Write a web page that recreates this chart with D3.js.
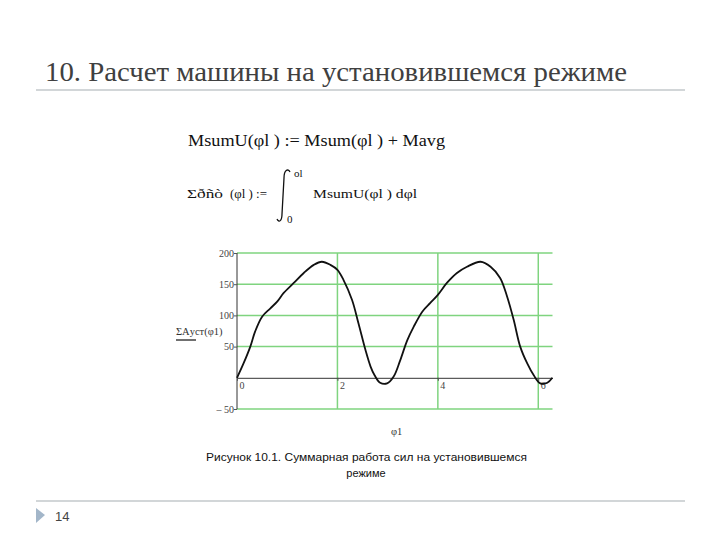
<!DOCTYPE html>
<html>
<head>
<meta charset="utf-8">
<script src="https://cdn.jsdelivr.net/npm/d3@7"></script>
<style>
  body { margin: 0; background: #fff; }
  svg { display: block; }
</style>
</head>
<body>
<div id="chart"></div>
<script>
// curve values
const phiValues = [0, 0.13, 0.265, 0.36, 0.5, 0.66, 0.8, 0.93, 1.13, 1.33, 1.53, 1.69, 1.86, 2.0, 2.12, 2.29, 2.42, 2.56, 2.66, 2.74, 2.85, 2.99, 3.12, 3.25, 3.39, 3.52, 3.69, 3.85, 4.0, 4.18, 4.38, 4.58, 4.85, 5.05, 5.24, 5.38, 5.51, 5.64, 5.78, 5.91, 6.04, 6.18, 6.28];
const workValues = [0, 23, 50, 74, 98, 111, 122, 136, 152, 168, 181, 186, 181, 173, 157, 125, 87, 44, 18, 4, -8, -9, 2, 28, 60, 82, 106, 120, 133, 152, 168, 178, 186, 178, 160, 130, 93, 50, 23, 4, -9, -8, 0];
const xTicks = [0, 2, 4, 6];
const yTicks = [200, 150, 100, 50, -50];

const svg = d3.select("#chart").append("svg")
  .attr("width", 720)
  .attr("height", 540);

const serif = "'Liberation Serif', 'Times New Roman', serif";
const sans = "'Liberation Sans', Arial, sans-serif";

// slide title + rules
svg.append("text")
  .attr("x", 45).attr("y", 81)
  .style("font-family", serif)
  .attr("font-size", 28)
  .attr("fill", "#404040")
  .attr("textLength", 582)
  .attr("lengthAdjust", "spacingAndGlyphs")
  .text("10. Расчет машины на установившемся режиме");

svg.append("line").attr("x1", 36).attr("x2", 685).attr("y1", 90).attr("y2", 90)
  .attr("stroke", "#d2d6d8").attr("stroke-width", 2);
svg.append("line").attr("x1", 36).attr("x2", 685).attr("y1", 501).attr("y2", 501)
  .attr("stroke", "#d2d6d8").attr("stroke-width", 2);

// footer
svg.append("path").attr("d", "M36,508 L45,515 L36,523 Z").attr("fill", "#a3b6c9");
svg.append("text").attr("x", 55).attr("y", 521)
  .style("font-family", sans).attr("font-size", 13)
  .attr("fill", "#444").text("14");

// formulas
svg.append("text").attr("x", 188).attr("y", 146)
  .style("font-family", serif).attr("font-size", 17).attr("fill", "#111")
  .attr("textLength", 257).attr("lengthAdjust", "spacingAndGlyphs")
  .text("MsumU(φl ) := Msum(φl ) + Mavg");

svg.append("text").attr("x", 187).attr("y", 198)
  .style("font-family", serif).attr("font-size", 13).attr("fill", "#111")
  .attr("textLength", 36).attr("lengthAdjust", "spacingAndGlyphs")
  .text("Σðñò");
svg.append("text").attr("x", 230).attr("y", 198)
  .style("font-family", serif).attr("font-size", 13).attr("fill", "#111")
  .attr("textLength", 37).attr("lengthAdjust", "spacingAndGlyphs")
  .text("(φl ) :=");
// integral sign
svg.append("path")
  .attr("d", "M290,172 C288,168 284,170 284,178 L282,214 C282,221 279,223 277,219")
  .attr("fill", "none").attr("stroke", "#111").attr("stroke-width", 1.3);
svg.append("text").attr("x", 294).attr("y", 177)
  .style("font-family", serif).attr("font-size", 11).attr("fill", "#111")
  .text("ol");
svg.append("text").attr("x", 287).attr("y", 223)
  .style("font-family", serif).attr("font-size", 11).attr("fill", "#111")
  .text("0");
svg.append("text").attr("x", 313).attr("y", 198)
  .style("font-family", serif).attr("font-size", 13).attr("fill", "#111")
  .attr("textLength", 104).attr("lengthAdjust", "spacingAndGlyphs")
  .text("MsumU(φl ) dφl");

// plot
const xScale = d3.scaleLinear().domain([0, 2 * Math.PI]).range([237, 552.5]);
const yScale = d3.scaleLinear().domain([-50, 200]).range([409, 253]);
const green = "#7fd47f";

svg.append("g").selectAll("line")
  .data(yTicks).join("line")
  .attr("x1", xScale(0)).attr("x2", xScale(2 * Math.PI))
  .attr("y1", d => yScale(d)).attr("y2", d => yScale(d))
  .attr("stroke", green).attr("stroke-width", 1.5);

svg.append("g").selectAll("line")
  .data(xTicks.filter(d => d > 0)).join("line")
  .attr("x1", d => xScale(d)).attr("x2", d => xScale(d))
  .attr("y1", yScale(200)).attr("y2", yScale(-50))
  .attr("stroke", green).attr("stroke-width", 1.5);

// y axis
const yAxis = d3.axisLeft(yScale)
  .tickValues(yTicks)
  .tickSize(3)
  .tickFormat(d => d < 0 ? "– " + Math.abs(d) : d);
const yg = svg.append("g").attr("transform", `translate(${xScale(0)},0)`).call(yAxis);
yg.select(".domain").attr("stroke", "#333").attr("d", `M0,${yScale(200)}V${yScale(-50)}`);
yg.selectAll(".tick line").attr("stroke", "#555");
yg.selectAll(".tick text").style("font-family", serif).attr("font-size", 10)
  .attr("fill", "#444").attr("x", -3);

// x axis along zero
const xAxis = d3.axisBottom(xScale).tickValues(xTicks).tickSize(3).tickSizeOuter(0)
  .tickFormat(d3.format("d"));
const xg = svg.append("g").attr("transform", `translate(0,${yScale(0)})`).call(xAxis);
xg.select(".domain").attr("stroke", "#333");
xg.selectAll(".tick line").attr("stroke", "#555");
xg.selectAll(".tick text").style("font-family", serif).attr("font-size", 10)
  .attr("fill", "#444").attr("text-anchor", "start").attr("x", 2).attr("y", 4);

// curve
const line = d3.line()
  .x((d, i) => xScale(phiValues[i]))
  .y(d => yScale(d))
  .curve(d3.curveCatmullRom);
svg.append("path").datum(workValues)
  .attr("d", line)
  .attr("fill", "none").attr("stroke", "#111").attr("stroke-width", 1.8);

// axis labels
svg.append("text").attr("x", 176).attr("y", 335)
  .style("font-family", serif).attr("font-size", 10.5).attr("fill", "#333")
  .text("ΣAуст(φ1)");
svg.append("line").attr("x1", 176).attr("x2", 196).attr("y1", 340).attr("y2", 340)
  .attr("stroke", "#222").attr("stroke-width", 1.3);
svg.append("text").attr("x", 391).attr("y", 435)
  .style("font-family", serif).attr("font-size", 10.5).attr("fill", "#333")
  .text("φ1");

// caption
svg.append("text").attr("x", 206).attr("y", 461)
  .style("font-family", sans).attr("font-size", 11).attr("fill", "#111")
  .attr("textLength", 321).attr("lengthAdjust", "spacingAndGlyphs")
  .text("Рисунок 10.1. Суммарная работа сил на установившемся");
svg.append("text").attr("x", 366).attr("y", 477)
  .style("font-family", sans).attr("font-size", 11).attr("fill", "#111")
  .attr("text-anchor", "middle")
  .text("режиме");
</script>
</body>
</html>
